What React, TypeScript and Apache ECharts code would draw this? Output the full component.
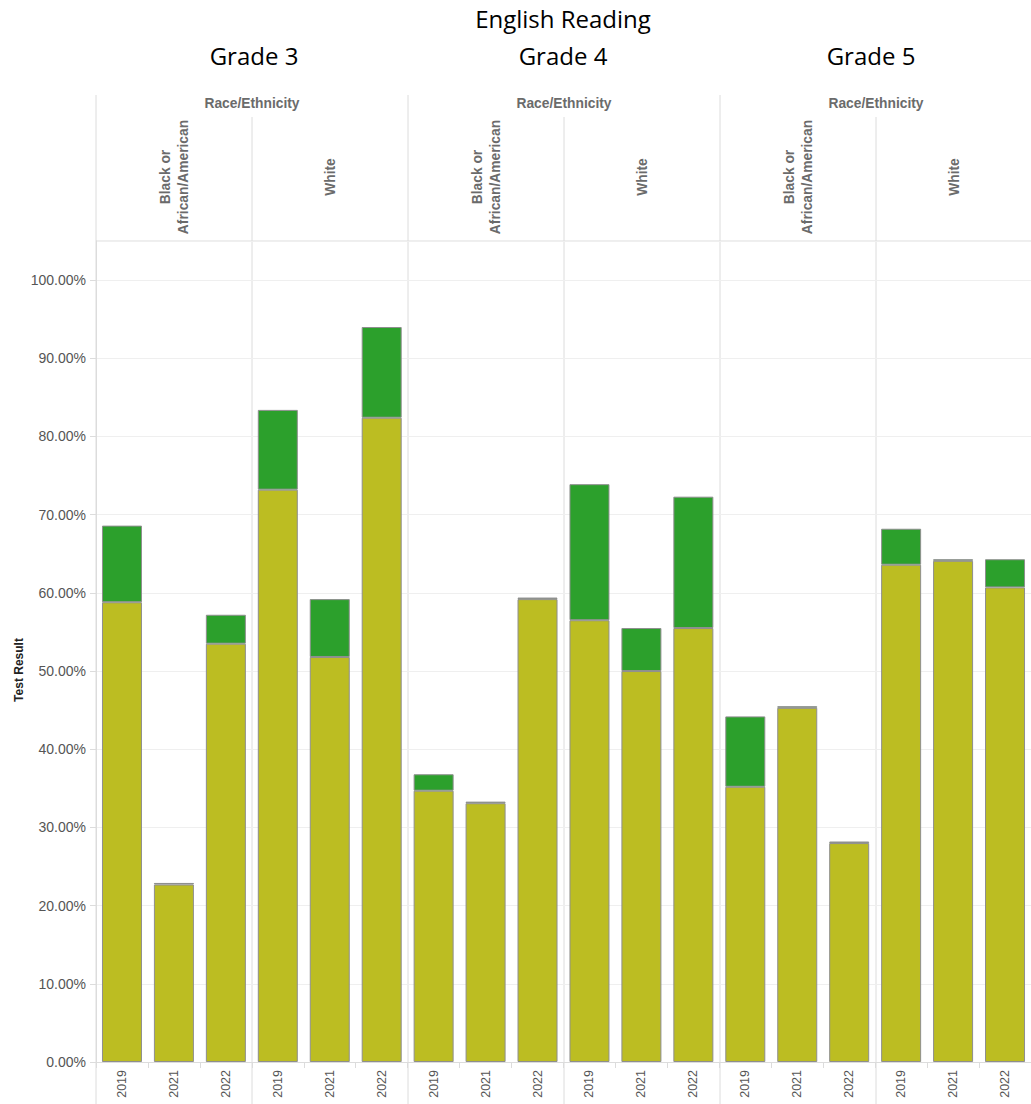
import React, { useEffect, useRef } from "react";
import * as echarts from "echarts";

const years = ["2019", "2021", "2022"];
const grades = ["Grade 3", "Grade 4", "Grade 5"];
const groups = ["Black or\nAfrican/American", "White"];
const yTicks = [0, 10, 20, 30, 40, 50, 60, 70, 80, 90, 100];

// values in percent, order: G3 Black, G3 White, G4 Black, G4 White, G5 Black, G5 White; years 2019, 2021, 2022
const baseValues = [
  58.8, 22.7, 53.5,
  73.2, 51.8, 82.4,
  34.7, 33.1, 59.2,
  56.5, 50.0, 55.5,
  35.2, 45.3, 28.0,
  63.6, 64.1, 60.7,
];
const topValues = [
  9.8, 0.2, 3.7,
  10.2, 7.4, 11.6,
  2.1, 0.2, 0.2,
  17.4, 5.5, 16.8,
  9.0, 0.2, 0.2,
  4.6, 0.2, 3.6,
];

const categories: string[] = [];
grades.forEach((g) => groups.forEach((gr) => years.forEach((y) => categories.push(g + "|" + gr + "|" + y))));

const W = 1031;
const H = 1104;
const GRID_LEFT = 96;
const GRID_TOP = 241;
const GRID_BOTTOM = 42;
const GRID_RIGHT = W - GRID_LEFT - 52 * categories.length;
const TITLE_X = [254, 563, 871];

export default function App() {
  const ref = useRef<HTMLDivElement>(null);
  useEffect(() => {
    if (!ref.current) return;
    const chart = echarts.init(ref.current, null, { renderer: "svg" });
    const catW = (W - GRID_LEFT - GRID_RIGHT) / categories.length;
    const panelW = catW * years.length * groups.length;
    const subW = catW * years.length;
    const lineColor = "#dcdcdc";
    const headFont = 'bold 13.8px "Liberation Sans", Arial';
    const graphics: any[] = [];

    // Titles
    graphics.push({
      type: "text",
      x: 563,
      y: 18,
      style: { text: "English Reading", font: '24px "Open Sans"', fill: "#000", align: "center", verticalAlign: "middle" },
    });
    grades.forEach((g, i) => {
      graphics.push({
        type: "text",
        x: TITLE_X[i],
        y: 55,
        style: { text: g, font: '24px "Open Sans"', fill: "#000", align: "center", verticalAlign: "middle" },
      });
    });

    // header lines
    for (let i = 0; i <= grades.length; i++) {
      const x = GRID_LEFT + panelW * i;
      if (x > W - 1) continue;
      graphics.push({ type: "line", shape: { x1: x, y1: 95, x2: x, y2: H }, style: { stroke: lineColor, lineWidth: 1 }, z: -1 });
    }
    grades.forEach((g, i) => {
      const x = GRID_LEFT + panelW * i + subW;
      graphics.push({ type: "line", shape: { x1: x, y1: 117, x2: x, y2: H }, style: { stroke: lineColor, lineWidth: 1 }, z: -1 });
      graphics.push({
        type: "text",
        x: GRID_LEFT + panelW * i + panelW / 2,
        y: 103,
        style: { text: "Race/Ethnicity", font: headFont, fill: "#6b6b6b", align: "center", verticalAlign: "middle" },
      });
      groups.forEach((gr, j) => {
        graphics.push({
          type: "text",
          x: GRID_LEFT + panelW * i + subW * j + subW / 2,
          y: 177,
          rotation: Math.PI / 2,
          style: {
            text: gr,
            font: headFont,
            fill: "#6b6b6b",
            align: "center",
            verticalAlign: "middle",
            lineHeight: 18,
          },
        });
      });
    });
    graphics.push({ type: "line", shape: { x1: GRID_LEFT, y1: GRID_TOP, x2: W, y2: GRID_TOP }, style: { stroke: lineColor, lineWidth: 1 }, z: -1 });

    // y axis title
    graphics.push({
      type: "text",
      x: 19,
      y: 670,
      rotation: Math.PI / 2,
      style: { text: "Test Result", font: 'bold 12px "Liberation Sans", Arial', fill: "#222", align: "center", verticalAlign: "middle" },
    });

    chart.setOption({
      animation: false,
      grid: { left: GRID_LEFT, right: GRID_RIGHT, top: GRID_TOP, bottom: GRID_BOTTOM, containLabel: false },
      xAxis: {
        type: "category",
        data: categories,
        boundaryGap: true,
        axisLine: { show: true, lineStyle: { color: lineColor } },
        axisTick: { show: true, length: 6, lineStyle: { color: lineColor } },
        axisLabel: {
          rotate: 90,
          margin: 8,
          formatter: (v: string) => v.split("|")[2],
          fontFamily: '"Liberation Sans", Arial',
          fontSize: 12.5,
          color: "#555",
          interval: 0,
        },
        splitLine: { show: false },
      },
      yAxis: {
        type: "value",
        min: 0,
        max: 105,
        interval: 10,
        axisLine: { show: true, lineStyle: { color: lineColor } },
        axisTick: { show: true, length: 6, lineStyle: { color: lineColor } },
        axisLabel: {
          margin: 10,
          showMaxLabel: false,
          formatter: (v: number) => (yTicks.includes(v) ? v.toFixed(2) + "%" : ""),
          fontFamily: '"Liberation Sans", Arial',
          fontSize: 14,
          color: "#555",
        },
        splitLine: { show: true, lineStyle: { color: "#efefef" } },
      },
      series: [
        {
          type: "bar",
          stack: "total",
          data: baseValues,
          barWidth: 40,
          itemStyle: { color: "#bcbd22", borderColor: "#8e8e8e", borderWidth: 1 },
        },
        {
          type: "bar",
          stack: "total",
          data: topValues,
          barWidth: 40,
          itemStyle: { color: "#2ca02c", borderColor: "#8e8e8e", borderWidth: 1 },
        },
      ],
      graphic: graphics,
    });
    return () => chart.dispose();
  }, []);
  return <div ref={ref} style={{ position: "absolute", left: 0, top: 0, width: W, height: H, background: "#fff" }} />;
}
